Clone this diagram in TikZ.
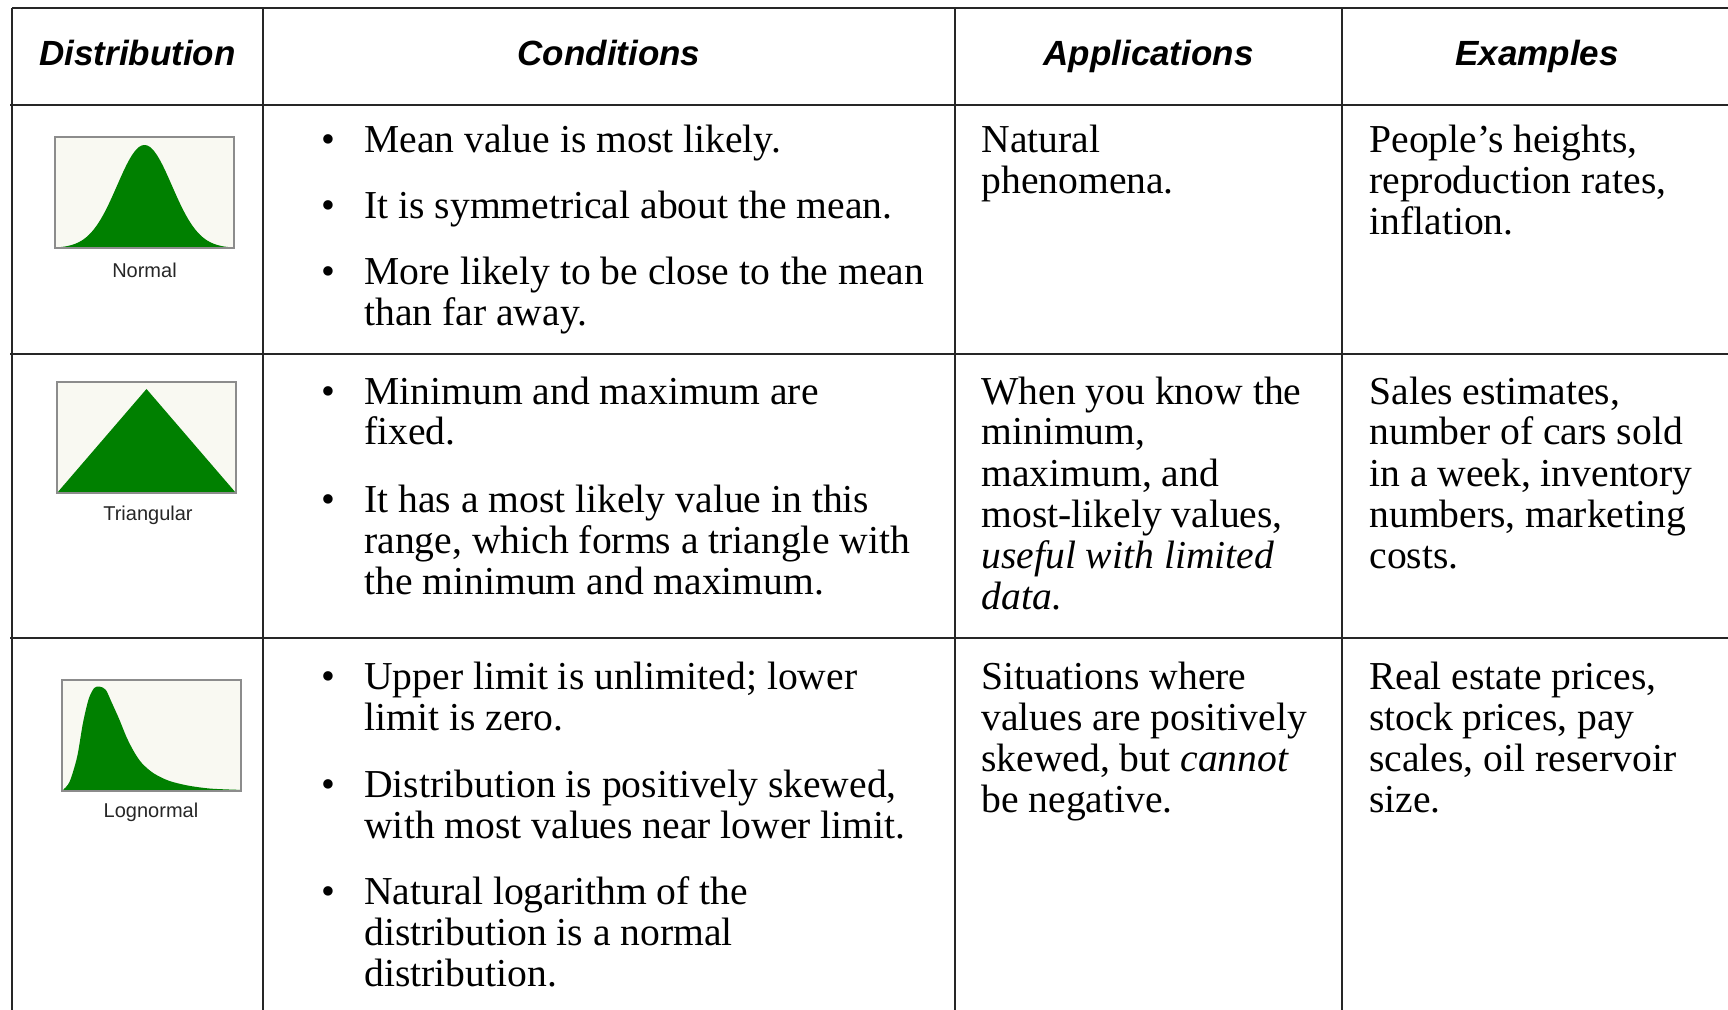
\documentclass[tikz,border=0pt]{standalone}
\usepackage{fontspec}
\setmainfont{Liberation Serif}
\setsansfont{Liberation Sans}
\usepackage{tikz}

\definecolor{distgreen}{RGB}{0,128,0}
\definecolor{distback}{RGB}{249,249,242}
\definecolor{distframe}{RGB}{140,140,140}
\newcommand{\bodyfont}{\fontsize{19.8pt}{20.5pt}\selectfont}
\newcommand{\headfont}{\sffamily\bfseries\itshape\fontsize{17.5pt}{21pt}\selectfont}
\newcommand{\bul}{\llap{\textbullet\hspace{14.5pt}}}
\newcommand{\cw}{179}
\newcommand{\ch}{111}

\begin{document}
\begin{tikzpicture}[x=0.5pt, y=-0.5pt,
    rule/.style={draw=black!85, line width=1pt},
    head/.style={anchor=base, inner sep=0pt, font=\headfont},
    cond/.style={anchor=base west, inner sep=0pt, text width=330pt, align=flush left, font=\bodyfont},
    appl/.style={anchor=base west, inner sep=0pt, text width=200pt, align=flush left, font=\bodyfont},
    expl/.style={anchor=base west, inner sep=0pt, text width=200pt, align=flush left, font=\bodyfont},
    chartlabel/.style={inner sep=0pt, text=black!85, font=\sffamily\fontsize{10pt}{12pt}\selectfont},
    chartframe/.style={draw=distframe, line width=0.8pt, fill=distback},
    distfill/.style={fill=distgreen}]
    \useasboundingbox (0,0) rectangle (1728,1010);

    % Table rules
    \draw[rule] (12,8) -- (1728,8);
    \draw[rule] (10,105) -- (1728,105);
    \draw[rule] (10,354) -- (1728,354);
    \draw[rule] (10,638) -- (1728,638);
    \draw[rule] (12,8) -- (12,1010);
    \draw[rule] (263,8) -- (263,1010);
    \draw[rule] (955,8) -- (955,1010);
    \draw[rule] (1342,8) -- (1342,1010);

    % Header row
    \node[head] (h-dist) at (137.5,66) {Distribution};
    \node[head] (h-cond) at (609,66) {Conditions};
    \node[head] (h-appl) at (1148.5,66) {Applications};
    \node[head] (h-expl) at (1537,66) {Examples};

    % First row
    \begin{scope}[shift={(55,137)}]
        \fill[distback] (0,0) rectangle (\cw,\ch);
        \fill[distfill] (0,\ch) -- plot[domain=0:\cw, samples=80, smooth] (\x, {\ch-103*exp(-((\x-89.5)/27.4)^2/2)}) -- (\cw,\ch) -- cycle;
        \draw[chartframe, fill=none] (0,0) rectangle (\cw,\ch);
    \end{scope}
    \node[chartlabel] (lbl-normal) at (144.5,270) {Normal};
    \node[cond] (cond-1-1) at (364,153) {\bul Mean value is most likely.};
    \node[cond] (cond-1-2) at (364,219) {\bul It is symmetrical about the mean.};
    \node[cond] (cond-1-3) at (364,285) {\bul More likely to be close to the mean\\than far away.};
    \node[appl] (appl-1) at (981,153) {Natural\\phenomena.};
    \node[expl] (expl-1) at (1369,153) {People's heights,\\reproduction rates,\\inflation.};

    % Second row
    \begin{scope}[shift={(57,382)}]
        \fill[distback] (0,0) rectangle (\cw,\ch);
        \fill[distfill] (0,\ch) -- (89.5,7) -- (\cw,\ch) -- cycle;
        \draw[chartframe, fill=none] (0,0) rectangle (\cw,\ch);
    \end{scope}
    \node[chartlabel] (lbl-triangular) at (148,515) {Triangular};
    \node[cond] (cond-2-1) at (364,404) {\bul Minimum and maximum are\\fixed.};
    \node[cond] (cond-2-2) at (364,512) {\bul It has a most likely value in this\\range, which forms a triangle with\\the minimum and maximum.};
    \node[appl] (appl-2) at (981,404) {When you know the\\minimum,\\maximum, and\\most-likely values,\\\textit{useful with limited}\\\textit{data}.};
    \node[expl] (expl-2) at (1369,404) {Sales estimates,\\number of cars sold\\in a week, inventory\\numbers, marketing\\costs.};

    % Third row
    \begin{scope}[shift={(62,680)}]
        \fill[distback] (0,0) rectangle (\cw,\ch);
        \fill[distfill] plot[smooth] coordinates {(0,111) (1.1,109.9) (7.7,101.5) (15.2,76.6) (20.9,43.3) (26.7,18.9) (32.4,7.8) (38.1,6.7) (43.9,10) (49.6,22.2) (57.1,38.9) (64.8,57.7) (72.3,72.2) (80,83.3) (91.5,93.2) (106.7,100.7) (125.7,105.5) (148.6,108.6) (179,109.9)} -- (\cw,\ch) -- cycle;
        \draw[chartframe, fill=none] (0,0) rectangle (\cw,\ch);
    \end{scope}
    \node[chartlabel] (lbl-lognormal) at (151,812) {Lognormal};
    \node[cond] (cond-3-1) at (364,689) {\bul Upper limit is unlimited; lower\\limit is zero.};
    \node[cond] (cond-3-2) at (364,797) {\bul Distribution is positively skewed,\\with most values near lower limit.};
    \node[cond] (cond-3-3) at (364,904) {\bul Natural logarithm of the\\distribution is a normal\\distribution.};
    \node[appl] (appl-3) at (981,689) {Situations where\\values are positively\\skewed, but \textit{cannot}\\be negative.};
    \node[expl] (expl-3) at (1369,689) {Real estate prices,\\stock prices, pay\\scales, oil reservoir\\size.};

\end{tikzpicture}
\end{document}
